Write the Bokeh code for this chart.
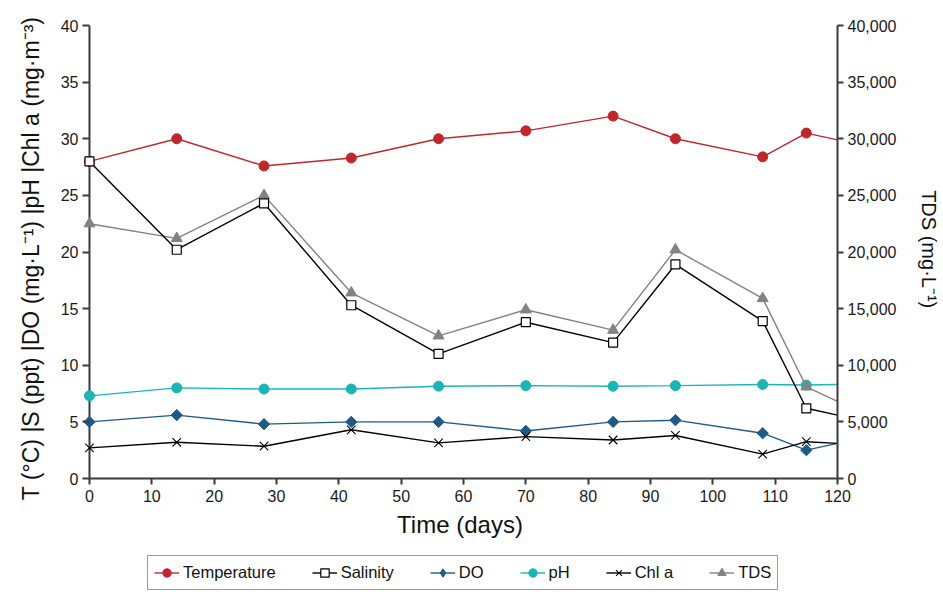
from math import pi
from bokeh.plotting import figure
from bokeh.layouts import column
from bokeh.models import (Range1d, LinearAxis, NumeralTickFormatter, Legend, LegendItem,
                          FixedTicker, Span)
from bokeh.embed import file_html
from bokeh.resources import INLINE

# ---------------- data ----------------
days = [0, 14, 28, 42, 56, 70, 84, 94, 108, 115, 120]
temperature = [28.0, 30.0, 27.6, 28.3, 30.0, 30.7, 32.0, 30.0, 28.4, 30.5, 29.9]
salinity = [28.0, 20.2, 24.3, 15.3, 11.0, 13.8, 12.0, 18.9, 13.9, 6.2, 5.6]
do_vals = [5.0, 5.6, 4.8, 5.0, 5.0, 4.2, 5.0, 5.15, 4.0, 2.5, 3.1]
ph = [7.3, 8.0, 7.9, 7.9, 8.15, 8.2, 8.15, 8.2, 8.3, 8.25, 8.3]
chl_a = [2.7, 3.2, 2.85, 4.3, 3.15, 3.7, 3.4, 3.8, 2.15, 3.25, 3.1]
tds = [22500, 21200, 25000, 16400, 12600, 14900, 13100, 20200, 15900, 8100, 6800]

x_ticks = [0, 10, 20, 30, 40, 50, 60, 70, 80, 90, 100, 110, 120]
y_ticks = [0, 5, 10, 15, 20, 25, 30, 35, 40]
tds_ticks = [0, 5000, 10000, 15000, 20000, 25000, 30000, 35000, 40000]

NB = "\u00a0"
left_label = "T (°C) |S (ppt) |DO (mg·L⁻¹) |pH |Chl a (mg·m⁻³)" + NB + NB
right_label = "TDS (mg·L⁻¹)" + NB
x_label = "Time (days)"
legend_names = ["Temperature", "Salinity", "DO", "pH", "Chl a", "TDS"]

# ---------------- style ----------------
FONT = "Liberation Sans"
AX = "#3a3a3a"
TXT = "#111111"
RED = "#c0272d"
BLUE = "#1f5a87"
TEAL = "#1bb6b4"
GREY = "#828282"
LW = 1.4

p = figure(width=943, height=552, output_backend="svg", toolbar_location=None,
           x_range=Range1d(-1.12, 120), y_range=Range1d(0, 40),
           min_border_left=82, min_border_right=106, min_border_top=25,
           min_border_bottom=74)
p.outline_line_color = None
p.background_fill_color = "white"
p.xgrid.visible = False
p.ygrid.visible = False
p.extra_y_ranges = {"tds": Range1d(0, 40000)}


def style_axis(ax, standoff, tick_out=6, tick_in=0):
    ax.axis_line_color = AX
    ax.axis_line_width = 2
    ax.major_tick_line_color = AX
    ax.major_tick_line_width = 2
    ax.major_tick_out = tick_out
    ax.major_tick_in = tick_in
    ax.minor_tick_out = 0
    ax.minor_tick_in = 0
    ax.major_label_text_font = FONT
    ax.major_label_text_font_size = "16px"
    ax.major_label_text_color = "#1a1a1a"
    ax.major_label_standoff = standoff
    ax.axis_label_text_font = FONT
    ax.axis_label_text_font_style = "normal"
    ax.axis_label_text_color = TXT


xaxis = p.xaxis[0]
xaxis.ticker = FixedTicker(ticks=x_ticks)
xaxis.bounds = (0, 120)
style_axis(xaxis, 5)
xaxis.axis_label = x_label
xaxis.axis_label_text_font_size = "24px"
xaxis.axis_label_standoff = 6

yaxis = p.yaxis[0]
yaxis.ticker = FixedTicker(ticks=y_ticks)
style_axis(yaxis, 4, tick_out=0, tick_in=7)
yaxis.axis_line_color = None
yaxis.axis_label = left_label
yaxis.axis_label_text_font_size = "23px"
yaxis.axis_label_standoff = 14

# the y-axis line sits at x = 0 (range starts a little left so end markers stay whole)
p.add_layout(Span(location=0, dimension="height", line_color=AX, line_width=2,
                  level="underlay"))

raxis = LinearAxis(y_range_name="tds", ticker=FixedTicker(ticks=tds_ticks),
                   formatter=NumeralTickFormatter(format="0,0"))
style_axis(raxis, 4)
raxis.axis_label = right_label
raxis.axis_label_text_font_size = "20px"
raxis.axis_label_standoff = 19
p.add_layout(raxis, "right")

# ---------------- series ----------------
# (name, values, colour, marker, size, fill, range, marker line width, angle)
specs = [
    ("temp", temperature, RED, "circle", 10, RED, "default", 1.0, 0),
    ("ph", ph, TEAL, "circle", 10, TEAL, "default", 1.0, 0),
    ("do", do_vals, BLUE, "square", 8, BLUE, "default", 1.0, pi / 4),
    ("chl", chl_a, "black", "x", 12, None, "default", 1.1, 0),
    ("tds", tds, GREY, "triangle", 11, GREY, "tds", 1.0, 0),
    ("sal", salinity, "black", "square", 9, "white", "default", 1.2, 0),
]
for name, y, color, marker, size, fill, rng, mlw, ang in specs:
    p.line(days, y, line_color=color, line_width=LW, y_range_name=rng)
    p.scatter(days[:-1], y[:-1], marker=marker, size=size, fill_color=fill,
              line_color=color, line_width=mlw, angle=ang, y_range_name=rng)

# ---------------- legend strip (own small figure below the chart) ----------------
# The same series are drawn here, outside this strip's visible range, only so that
# the legend can show their line and marker styles.
lp = figure(width=943, height=40, output_backend="svg", toolbar_location=None,
            x_axis_location=None, y_axis_location=None, min_border=0,
            x_range=Range1d(0, 1), y_range=Range1d(0, 1))
lp.outline_line_color = None
lp.xgrid.visible = False
lp.ygrid.visible = False

legend_marker = {"do": ("diamond", 12)}
proxies = {}
for name, y, color, marker, size, fill, rng, mlw, ang in specs:
    mk, sz = legend_marker.get(name, (marker, size))
    rl = lp.line(days, y, line_color=color, line_width=LW)
    rm = lp.scatter(days, y, marker=mk, size=sz, fill_color=fill,
                    line_color=color, line_width=mlw)
    proxies[name] = [rl, rm]

order = ["temp", "sal", "do", "ph", "chl", "tds"]
items = [LegendItem(label=lab, renderers=proxies[k]) for lab, k in zip(legend_names, order)]
legend = Legend(items=items, location=(65, 2), orientation="horizontal",
                label_text_font=FONT, label_text_font_size="16.5px",
                label_text_color=TXT,
                glyph_width=25, glyph_height=21, label_standoff=4, spacing=36,
                padding=6, margin=0, border_line_color="#333333",
                border_line_width=1.2, background_fill_color="white",
                background_fill_alpha=1)
lp.add_layout(legend)

page = column(p, lp, spacing=0)
open("out.html", "w").write(file_html(page, INLINE))
